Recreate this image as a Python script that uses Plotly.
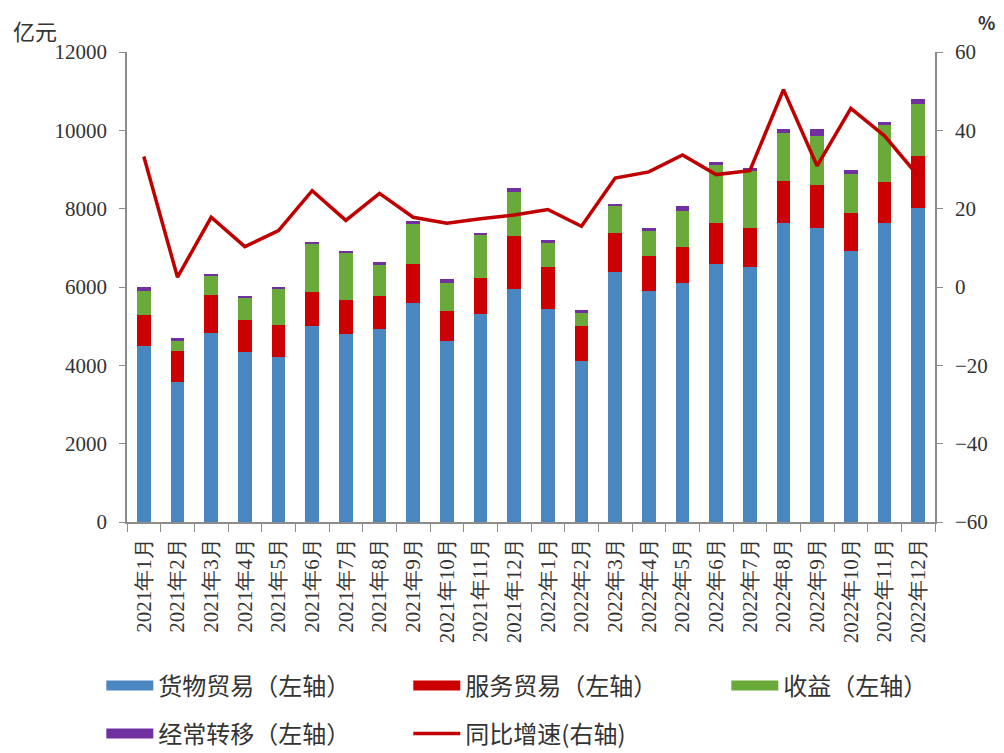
import plotly.graph_objects as go

months = ["2021年1月", "2021年2月", "2021年3月", "2021年4月", "2021年5月", "2021年6月",
          "2021年7月", "2021年8月", "2021年9月", "2021年10月", "2021年11月", "2021年12月",
          "2022年1月", "2022年2月", "2022年3月", "2022年4月", "2022年5月", "2022年6月",
          "2022年7月", "2022年8月", "2022年9月", "2022年10月", "2022年11月", "2022年12月"]

goods = [4490, 3570, 4830, 4330, 4210, 5000, 4790, 4920, 5590, 4630, 5300, 5960,
         5430, 4120, 6380, 5890, 6090, 6600, 6510, 7630, 7500, 6930, 7630, 8020]
services = [790, 800, 970, 840, 830, 880, 890, 840, 1010, 750, 930, 1340,
            1080, 880, 1000, 900, 930, 1040, 990, 1080, 1100, 960, 1040, 1330]
income = [630, 250, 500, 550, 930, 1220, 1210, 820, 1010, 710, 1120, 1120,
          630, 340, 710, 630, 910, 1500, 1450, 1220, 1260, 990, 1470, 1330]
transfers = [90, 80, 30, 30, 30, 30, 30, 50, 70, 120, 30, 100,
             50, 70, 20, 80, 130, 40, 100, 100, 170, 110, 80, 130]
growth = [33.3, 2.5, 17.8, 10.3, 14.4, 24.6, 17.0, 23.9, 17.8, 16.3, 17.4, 18.4,
          19.8, 15.5, 27.8, 29.4, 33.7, 28.7, 29.7, 50.4, 30.9, 45.6, 38.6, 28.4]

# name, values, colour, legend id
bar_series = [
    ("货物贸易（左轴）", goods, "#4a86c0", "legend"),
    ("服务贸易（左轴）", services, "#cc0000", "legend2"),
    ("收益（左轴）", income, "#6aaa3a", "legend3"),
    ("经常转移（左轴）", transfers, "#7030a0", "legend4"),
]

serif = "Liberation Serif"
cjk = "Noto Sans CJK SC"
txt = "#333333"

fig = go.Figure()
for name, vals, color, lg in bar_series:
    fig.add_trace(go.Bar(x=months, y=vals, name=name, marker=dict(color=color, line=dict(width=0)),
                         width=0.4, showlegend=False))
    # legend entry with a wide swatch
    fig.add_trace(go.Scatter(x=[None], y=[None], mode="lines", name=name,
                             line=dict(color=color, width=10), legend=lg))

fig.add_trace(go.Scatter(x=months, y=growth, name="同比增速(右轴)", mode="lines",
                         line=dict(color="#c00000", width=3.5), yaxis="y2", legend="legend5"))

axis_col = "#8c8c8c"


def leg(x, y):
    return dict(orientation="h", xref="container", yref="container", x=x, y=y,
                xanchor="left", yanchor="middle", itemwidth=47, bgcolor="rgba(0,0,0,0)",
                font=dict(family=cjk, size=24, color=txt))


fig.update_layout(
    width=996, height=745,
    margin=dict(l=119, r=69, t=44, b=231),
    paper_bgcolor="white", plot_bgcolor="white",
    barmode="stack",
    font=dict(family=serif, size=20, color=txt),
    xaxis=dict(type="category", tickangle=-90, showline=True, linecolor=axis_col, linewidth=1.5,
               ticks="outside", tickson="boundaries", ticklen=8, tickcolor=axis_col,
               ticklabelstandoff=6, showgrid=False, tickfont=dict(family=serif, size=21, color=txt)),
    yaxis=dict(range=[0, 12000], dtick=2000, tickformat="d", showline=True, linecolor=axis_col,
               linewidth=1.5, ticks="outside", ticklen=6, tickcolor=axis_col, ticklabelstandoff=8,
               showgrid=False, zeroline=False, tickfont=dict(family=serif, size=21, color=txt)),
    yaxis2=dict(range=[-60, 60], dtick=20, overlaying="y", side="right", showline=True,
                linecolor=axis_col, linewidth=1.5, ticks="outside", ticklen=6, tickcolor=axis_col,
                ticklabelstandoff=8, showgrid=False, zeroline=False,
                tickfont=dict(family=serif, size=21, color=txt)),
    legend=leg(0.0937, 0.0899),
    legend2=leg(0.4019, 0.0899),
    legend3=leg(0.7212, 0.0899),
    legend4=leg(0.0937, 0.0255),
    legend5=leg(0.4019, 0.0255),
    annotations=[
        dict(text="亿元", xref="paper", yref="paper", x=-0.114, y=1.047, xanchor="center",
             yanchor="middle", showarrow=False, font=dict(family=cjk, size=22, color=txt)),
        dict(text="<b>%</b>", xref="paper", yref="paper", x=1.064, y=1.064, xanchor="center",
             yanchor="middle", showarrow=False, font=dict(family=cjk, size=18, color=txt)),
    ],
)

fig.write_html("out.html")
